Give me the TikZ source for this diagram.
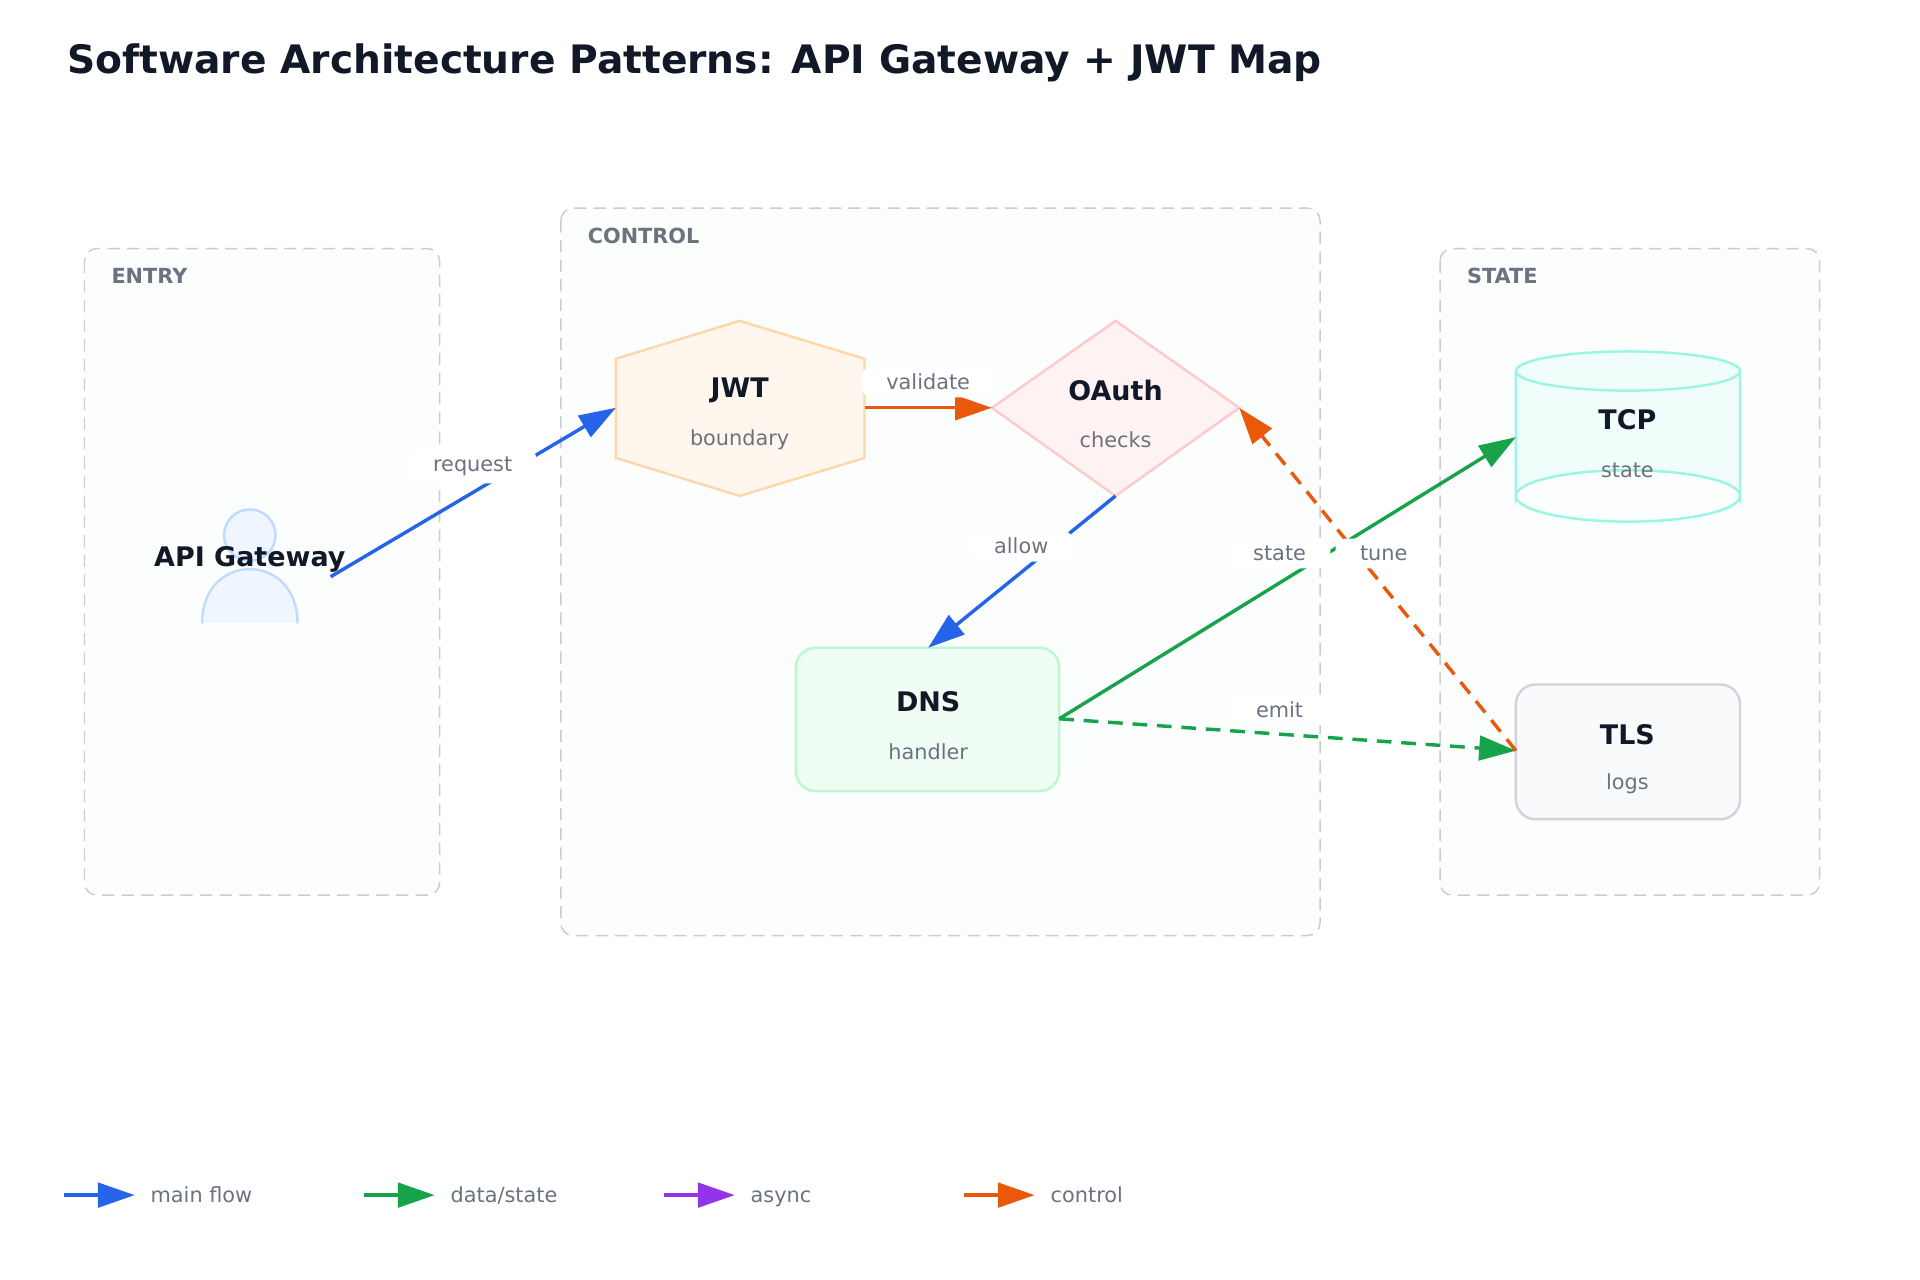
\documentclass[tikz,border=0pt]{standalone}
\usepackage{fontspec}
\setmainfont{DejaVu Sans}
\usetikzlibrary{arrows.meta,shapes.geometric}
\definecolor{cblue}{HTML}{2563EB}
\definecolor{cgreen}{HTML}{16A34A}
\definecolor{cpurple}{HTML}{9333EA}
\definecolor{corange}{HTML}{EA580C}
\definecolor{ctext}{HTML}{111827}
\definecolor{cgray}{HTML}{6B7280}
\definecolor{pfill}{HTML}{EFF6FF}
\definecolor{pdraw}{HTML}{BFDBFE}
\definecolor{tfill}{HTML}{F0FDFA}
\definecolor{tdraw}{HTML}{99F6E4}
\definecolor{hfill}{HTML}{FFF7ED}
\definecolor{hdraw}{HTML}{FED7AA}
\definecolor{dfill}{HTML}{FEF2F2}
\definecolor{ddraw}{HTML}{FECACA}
\definecolor{gfill}{HTML}{F0FDF4}
\definecolor{gdraw}{HTML}{BBF7D0}
\definecolor{sfill}{HTML}{F8FAFC}
\definecolor{sdraw}{HTML}{D1D5DB}
\definecolor{grfill}{HTML}{FCFDFD}
\tikzset{
 grp/.style={draw=black!20,line width=0.6pt,fill=grfill,rounded corners=5pt,dash pattern=on 5pt off 3pt},
 grplbl/.style={anchor=west,text=cgray,font=\bfseries\fontsize{8.5}{10}\selectfont},
 ttl/.style={text=ctext,font=\bfseries\fontsize{11}{13}\selectfont},
 sub/.style={text=cgray,font=\fontsize{8.5}{10}\selectfont},
 elbl/.style={text=cgray,font=\fontsize{8.5}{10}\selectfont,fill=white,rounded corners=4pt,inner xsep=10pt,inner ysep=3pt},
 arr/.style={line width=1.4pt,-{Triangle[length=15pt,width=10pt]}},
}
\begin{document}
\begin{tikzpicture}[x=0.5pt,y=-0.5pt]
\useasboundingbox[fill=white] (0,0) rectangle (1568,1045.3);
\node[anchor=west,text=ctext,font=\bfseries\fontsize{16}{20}\selectfont] (title) at (48,51) {Software Architecture Patterns: API Gateway + JWT Map};
% groups
\draw[grp] (69,203) rectangle (359,731);
\draw[grp] (458,170) rectangle (1078,764);
\draw[grp] (1176,203) rectangle (1486,731);
\node[grplbl] (gE) at (84,225) {ENTRY};
\node[grplbl] (gC) at (473,193) {CONTROL};
\node[grplbl] (gS) at (1191,225) {STATE};
% person
\draw[draw=pdraw,fill=pfill,line width=1pt] (204,437) circle (21);
\draw[draw=pdraw,fill=pfill,line width=1pt] (165,509) .. controls (165,450) and (243,450) .. (243,509);
\node[ttl] (api) at (204,457) {API Gateway};
\coordinate (apiR) at (270,471);
% JWT hexagon
\draw[draw=hdraw,fill=hfill,line width=1pt] (604,262)--(706,293)--(706,374)--(604,405)--(503,374)--(503,293)--cycle;
\node[ttl] (jwt) at (604,319) {JWT};
\node[sub] (jwts) at (604,359) {boundary};
\coordinate (jwtL) at (503,333); \coordinate (jwtR) at (706,333);
% OAuth diamond
\draw[draw=ddraw,fill=dfill,line width=1pt] (911,262)--(1012,333)--(911,405)--(810,333)--cycle;
\node[ttl] (oa) at (911,319) {OAuth};
\node[sub] (oas) at (911,359) {checks};
\coordinate (oaL) at (810,333); \coordinate (oaR) at (1012,333); \coordinate (oaB) at (911,405);
% DNS
\draw[draw=gdraw,fill=gfill,line width=1pt,rounded corners=8pt] (650,529) rectangle (865,646);
\node[ttl] (dns) at (758,573) {DNS};
\node[sub] (dnss) at (758,614) {handler};
\coordinate (dnsT) at (758,529); \coordinate (dnsR) at (865,587);
% TCP cylinder
\draw[draw=tdraw,fill=tfill,line width=1pt] (1238,303) -- (1238,405) arc[start angle=180,end angle=360,x radius=91.5,y radius=21] -- (1421,303);
\draw[draw=tdraw,fill=tfill,line width=1pt] (1329.5,303) ellipse[x radius=91.5,y radius=16];
\draw[draw=tdraw,line width=1pt] (1238,405) arc[start angle=180,end angle=0,x radius=91.5,y radius=21];
\node[ttl] (tcp) at (1329,343) {TCP};
\node[sub] (tcps) at (1329,384) {state};
\coordinate (tcpL) at (1238,357);
% TLS
\draw[draw=sdraw,fill=sfill,line width=1pt,rounded corners=8pt] (1238,559) rectangle (1421,669);
\node[ttl] (tls) at (1329,600) {TLS};
\node[sub] (tlss) at (1329,640) {logs};
\coordinate (tlsL) at (1238,613);
% edges
\draw[arr,cblue] (apiR) -- (jwtL);
\node[elbl] (l1) at (386,381) {request};
\draw[arr,corange] (jwtR) -- (oaL);
\node[elbl] (l2) at (758,312) {validate};
\draw[arr,cblue] (oaB) -- (dnsT);
\node[elbl] (l3) at (834,446) {allow};
\draw[arr,cgreen] (dnsR) -- (tcpL);
\draw[arr,cgreen,dash pattern=on 6pt off 4pt] (dnsR) -- (tlsL);
\draw[arr,corange,dash pattern=on 6pt off 4pt] (tlsL) -- (oaR);
\node[elbl] (l4) at (1045,452) {state};
\node[elbl] (l5) at (1130,452) {tune};
\node[elbl] (l6) at (1045,580) {emit};
% legend
\coordinate (a1) at (52,976); \coordinate (b1) at (110,976);
\coordinate (a2) at (297,976); \coordinate (b2) at (355,976);
\coordinate (a3) at (542,976); \coordinate (b3) at (600,976);
\coordinate (a4) at (787,976); \coordinate (b4) at (845,976);
\draw[arr,cblue] (a1)--(b1); \node[sub,anchor=base west] (t1) at (116,982) {main flow};
\draw[arr,cgreen] (a2)--(b2); \node[sub,anchor=base west] (t2) at (361,982) {data/state};
\draw[arr,cpurple] (a3)--(b3); \node[sub,anchor=base west] (t3) at (606,982) {async};
\draw[arr,corange] (a4)--(b4); \node[sub,anchor=base west] (t4) at (851,982) {control};
\end{tikzpicture}
\end{document}
